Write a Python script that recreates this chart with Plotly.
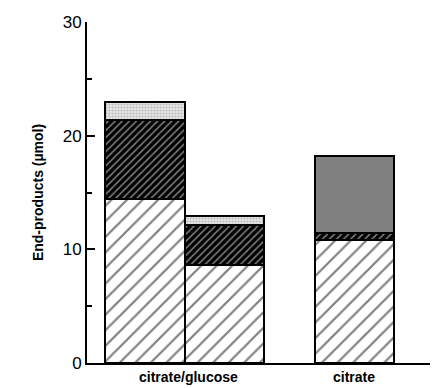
import plotly.graph_objects as go

positions = [0.0, 1.0, 2.65]
light_hatch = [14.4, 8.6, 10.8]
dense_hatch = [7.0, 3.5, 0.6]
stipple = [1.6, 0.8, 0.0]
grey_solid = [0.0, 0.0, 6.8]

group_ticks = [0.55, 2.65]
group_labels = ["citrate/glucose", "citrate"]

line = dict(color="black", width=2)
fig = go.Figure()
fig.add_bar(x=positions, y=light_hatch, width=1.0,
            marker=dict(color="white", line=line,
                        pattern=dict(shape="/", fgcolor="black", bgcolor="white", size=11, solidity=0.2)))
fig.add_bar(x=positions, y=dense_hatch, width=1.0,
            marker=dict(color="black", line=line,
                        pattern=dict(shape="/", fgcolor="white", bgcolor="black", size=5, solidity=0.3)))
fig.add_bar(x=positions, y=stipple, width=1.0,
            marker=dict(color="white", line=line,
                        pattern=dict(shape=".", fgcolor="#888888", bgcolor="#e8e8e8", size=3, solidity=0.4)))
fig.add_bar(x=positions, y=grey_solid, width=1.0,
            marker=dict(color="#808080", line=line))

for xv, txt in zip(group_ticks, group_labels):
    fig.add_annotation(x=xv, y=0, xref="x", yref="y", text=f"<b>{txt}</b>", showarrow=False,
                       yanchor="top", yshift=-4, font=dict(size=14))

# page body has an 8px margin, so the figure is sized/offset to compensate
fig.update_layout(
    width=430, height=380, barmode="stack", showlegend=False,
    margin=dict(l=79, r=3, t=14, b=25),
    plot_bgcolor="white", paper_bgcolor="white",
    font=dict(family="Liberation Sans, Arial, sans-serif", color="black"),
    bargap=0,
)
fig.update_xaxes(range=[-0.734, 3.67], showline=True, linecolor="black", linewidth=2,
                 showticklabels=False, ticks="",
                 showgrid=False, zeroline=False, fixedrange=True)
fig.update_yaxes(range=[0, 30], showline=True, linecolor="black", linewidth=2,
                 tickvals=[0, 10, 20, 30], ticks="inside", ticklen=8, tickwidth=2, tickcolor="black",
                 minor=dict(tickvals=[5, 15, 25], ticks="inside", ticklen=5, tickwidth=2, tickcolor="black"),
                 tickfont=dict(size=17), showgrid=False, zeroline=False,
                 title=dict(text="<b>End-products (µmol)</b>", font=dict(size=14), standoff=16))
fig.write_html("out.html")
